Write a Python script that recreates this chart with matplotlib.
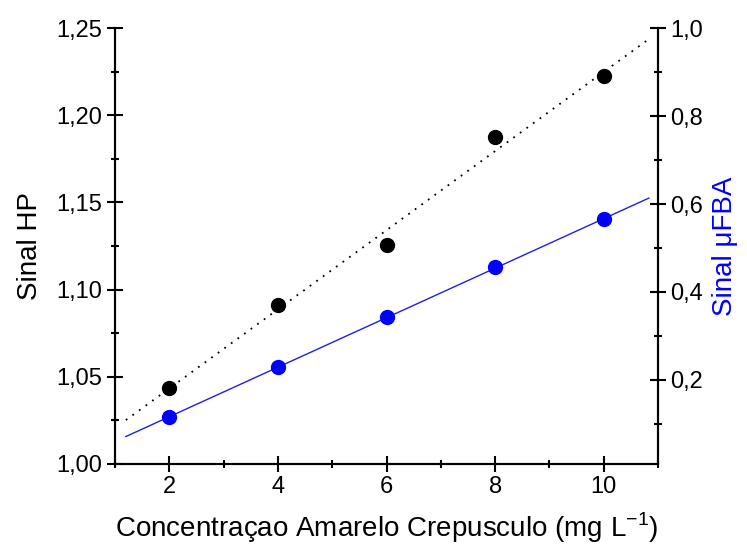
import numpy as np
import matplotlib
matplotlib.use('Agg')
import matplotlib.pyplot as plt
from matplotlib.ticker import MultipleLocator, FuncFormatter

# Configuración de gráficos
plt.rcParams['font.family'] = ['Liberation Sans', 'DejaVu Sans']
plt.rcParams['mathtext.fontset'] = 'custom'
plt.rcParams['mathtext.rm'] = 'Liberation Sans'
plt.rcParams['font.size'] = 17

# Datos
concentracao = np.array([2, 4, 6, 8, 10])
sinal_hp = np.array([1.0437, 1.0912, 1.1256, 1.1875, 1.2225])
sinal_ufba = np.array([0.115, 0.230, 0.342, 0.456, 0.565])

# Ajustes lineales
x_fit = np.linspace(1.2, 10.83, 50)
coef_hp = np.polyfit(concentracao, sinal_hp, 1)
coef_ufba = np.polyfit(concentracao, sinal_ufba, 1)

fig = plt.figure(figsize=(7.47, 5.51), dpi=100)
ax = fig.add_axes([0.154, 0.158, 0.727, 0.791])
ax2 = ax.twinx()

ax.plot(x_fit, np.polyval(coef_hp, x_fit), color='black', linestyle=(0, (1, 3.5)), linewidth=1.3)
ax.plot(concentracao, sinal_hp, 'o', color='black', markersize=10)

ax2.plot(x_fit, np.polyval(coef_ufba, x_fit), color='#2020e0', linewidth=1.0)
ax2.plot(concentracao, sinal_ufba, 'o', color='#0000ff', markersize=10)

ax.set_xlim(1, 11)
ax.set_ylim(1.0, 1.25)
ax2.set_ylim(0.009, 1.0)

comma = lambda fmt: FuncFormatter(lambda v, p: (fmt % v).replace('.', ','))

ax.xaxis.set_major_locator(MultipleLocator(2))
ax.xaxis.set_minor_locator(MultipleLocator(1))
ax.yaxis.set_major_locator(MultipleLocator(0.05))
ax.yaxis.set_minor_locator(MultipleLocator(0.025))
ax.yaxis.set_major_formatter(comma('%.2f'))
ax2.set_yticks([0.2, 0.4, 0.6, 0.8, 1.0])
ax2.yaxis.set_minor_locator(MultipleLocator(0.1))
ax2.yaxis.set_major_formatter(comma('%.1f'))

for a in (ax, ax2):
    a.tick_params(which='major', direction='inout', length=12, width=1.5, labelsize=17, pad=3)
    a.tick_params(which='minor', direction='inout', length=6, width=1.5)
    for s in a.spines.values():
        s.set_linewidth(1.5)
ax.spines['top'].set_visible(False)
ax2.spines['top'].set_visible(False)

ax.set_xlabel('Concentraçao Amarelo Crepusculo (mg L$^{\\mathregular{-1}}$)', fontsize=20, labelpad=9)
ax.set_ylabel('Sinal HP', fontsize=20, labelpad=10)
ax2.set_ylabel('Sinal μFBA', fontsize=20, color='#0000ff', labelpad=6)

fig.savefig('out.png', dpi=100)
